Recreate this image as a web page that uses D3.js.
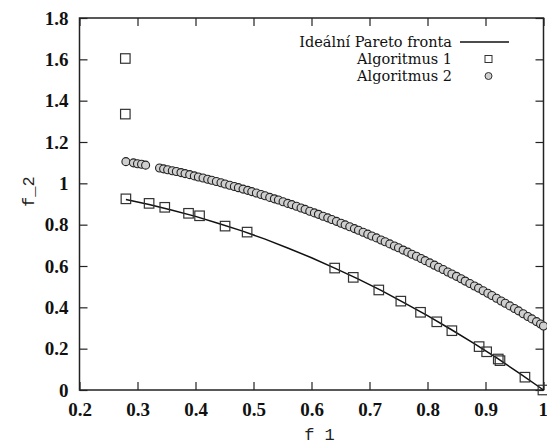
<!DOCTYPE html>
<html>
<head>
<meta charset="utf-8">
<script src="https://cdn.jsdelivr.net/npm/d3@7"></script>
<style>
  body { margin: 0; background: #fff; }
  svg { display: block; }
  .tick text { font-family: "Liberation Serif"; font-weight: bold; font-size: 19px; }
</style>
</head>
<body>
<div class="chart"></div>
<script>
// ideal front
const idealF1 = [0.28, 0.32, 0.36, 0.40, 0.44, 0.48, 0.52, 0.56, 0.60, 0.64, 0.68, 0.72, 0.76, 0.80, 0.84, 0.88, 0.92, 0.96, 1.0]
const idealF2 = [0.922, 0.898, 0.870, 0.840, 0.806, 0.770, 0.730, 0.686, 0.640, 0.590, 0.538, 0.482, 0.422, 0.360, 0.294, 0.226, 0.154, 0.078, 0.0]

// Algoritmus 1 (squares)
const alg1F1 = [0.279, 0.279, 0.280, 0.320, 0.347, 0.388, 0.407, 0.451, 0.489, 0.640, 0.672, 0.716, 0.754, 0.788, 0.816, 0.842, 0.889, 0.902, 0.922, 0.925, 0.968, 0.999]
const alg1F2 = [1.604, 1.335, 0.925, 0.903, 0.884, 0.855, 0.843, 0.793, 0.764, 0.590, 0.545, 0.484, 0.430, 0.376, 0.330, 0.287, 0.210, 0.185, 0.150, 0.142, 0.062, 0.0]

// Algoritmus 2 (circles)
const alg2F1 = [0.280, 0.293, 0.300, 0.307, 0.314, 0.338, 0.345, 0.352, 0.360, 0.367, 0.375, 0.382, 0.390, 0.398, 0.405, 0.413, 0.421, 0.428, 0.436, 0.444,
  0.451, 0.459, 0.467, 0.474, 0.482, 0.490, 0.497, 0.505, 0.513, 0.520, 0.528, 0.536, 0.543, 0.551, 0.559, 0.566, 0.574, 0.582, 0.589, 0.597,
  0.605, 0.612, 0.620, 0.628, 0.635, 0.643, 0.651, 0.658, 0.666, 0.674, 0.681, 0.689, 0.697, 0.704, 0.712, 0.720, 0.727, 0.735, 0.743, 0.750,
  0.758, 0.766, 0.773, 0.781, 0.789, 0.796, 0.804, 0.812, 0.819, 0.827, 0.835, 0.842, 0.850, 0.858, 0.865, 0.873, 0.881, 0.888, 0.896, 0.904,
  0.911, 0.919, 0.927, 0.934, 0.942, 0.950, 0.957, 0.965, 0.973, 0.980, 0.988, 0.995, 1.000]
const alg2F2 = [1.105, 1.099, 1.095, 1.092, 1.088, 1.074, 1.070, 1.066, 1.061, 1.057, 1.052, 1.047, 1.042, 1.036, 1.031, 1.026, 1.020, 1.015, 1.009, 1.003,
  0.997, 0.991, 0.985, 0.979, 0.972, 0.966, 0.960, 0.953, 0.946, 0.940, 0.932, 0.925, 0.919, 0.911, 0.903, 0.897, 0.889, 0.881, 0.874, 0.865,
  0.857, 0.850, 0.841, 0.833, 0.825, 0.816, 0.807, 0.799, 0.790, 0.781, 0.773, 0.763, 0.754, 0.745, 0.736, 0.726, 0.717, 0.707, 0.697, 0.688,
  0.677, 0.667, 0.657, 0.647, 0.636, 0.626, 0.615, 0.604, 0.594, 0.583, 0.571, 0.561, 0.550, 0.538, 0.527, 0.515, 0.503, 0.493, 0.480, 0.468,
  0.457, 0.444, 0.431, 0.420, 0.407, 0.394, 0.383, 0.369, 0.356, 0.344, 0.331, 0.319, 0.310]

const xTicks = [0.2, 0.3, 0.4, 0.5, 0.6, 0.7, 0.8, 0.9, 1]
const yTicks = [0, 0.2, 0.4, 0.6, 0.8, 1, 1.2, 1.4, 1.6, 1.8]
const legendLabels = ["Ideální Pareto fronta", "Algoritmus 1", "Algoritmus 2"]

var margin = {left: 79.5, right: 3.5, top: 18, bottom: 55},
    width = 547 - margin.left - margin.right,
    height = 445 - margin.top - margin.bottom

const svg = d3.select(".chart").append("svg")
  .attr("width", 547)
  .attr("height", 445)

const g = svg.append("g")
  .attr("transform", `translate(${margin.left},${margin.top})`)

const xs = d3.scaleLinear().domain([0.2, 1]).range([0, width])
const ys = d3.scaleLinear().domain([0, 1.8]).range([height, 0])

const fmt = d => d === 0 || d === 1 ? String(d) : d.toFixed(1)

// axes with inward ticks on all sides
const tickLen = 8
const xAxisG = g.append("g").attr("transform", `translate(0,${height})`)
  .call(d3.axisBottom(xs).tickValues(xTicks).tickSize(-tickLen).tickPadding(13).tickFormat(fmt))
g.append("g")
  .call(d3.axisTop(xs).tickValues(xTicks).tickSize(-tickLen).tickFormat(""))
g.append("g")
  .call(d3.axisLeft(ys).tickValues(yTicks).tickSize(-tickLen).tickPadding(11).tickFormat(fmt))
g.append("g").attr("transform", `translate(${width},0)`)
  .call(d3.axisRight(ys).tickValues(yTicks).tickSize(-tickLen).tickFormat(""))

g.selectAll(".domain").remove()
g.selectAll(".tick line").attr("stroke", "#222").attr("stroke-width", 1.2)
g.selectAll(".tick text").attr("fill", "#111")

// last x label sits at the page edge, nudge it in
xAxisG.selectAll(".tick text").filter(d => d === 1).attr("text-anchor", "end").attr("dx", 4)

g.append("rect")
  .attr("width", width).attr("height", height)
  .attr("fill", "none").attr("stroke", "#222").attr("stroke-width", 1.5)

// axis titles
svg.append("text")
  .attr("x", margin.left + width / 2 + 8)
  .attr("y", 440)
  .attr("text-anchor", "middle")
  .style("font-family", "'Liberation Mono', monospace")
  .style("font-size", "17px")
  .attr("fill", "#222")
  .text("f 1")

svg.append("text")
  .attr("transform", `translate(34,${margin.top + ys(0.96)}) rotate(-90)`)
  .attr("text-anchor", "middle")
  .style("font-family", "'Liberation Mono', monospace")
  .style("font-size", "17px")
  .attr("fill", "#222")
  .text("f_2")

// ideal line
const line = d3.line().x(d => xs(d[0])).y(d => ys(d[1]))
g.append("path")
  .datum(idealF1.map((f, i) => [f, idealF2[i]]))
  .attr("d", line)
  .attr("fill", "none")
  .attr("stroke", "#111")
  .attr("stroke-width", 1.5)

// circles
g.selectAll(".alg2").data(alg2F1.map((f, i) => [f, alg2F2[i]])).join("circle")
  .attr("class", "alg2")
  .attr("cx", d => xs(d[0]))
  .attr("cy", d => ys(d[1]))
  .attr("r", 4)
  .attr("fill", "#cfcfcf")
  .attr("stroke", "#222")
  .attr("stroke-width", 1.1)

// squares
const sq = 9.5
g.selectAll(".alg1").data(alg1F1.map((f, i) => [f, alg1F2[i]])).join("rect")
  .attr("class", "alg1")
  .attr("x", d => xs(d[0]) - sq / 2)
  .attr("y", d => ys(d[1]) - sq / 2)
  .attr("width", sq)
  .attr("height", sq)
  .attr("fill", "none")
  .attr("stroke", "#333")
  .attr("stroke-width", 1.2)

// legend
const legend = svg.append("g").attr("transform", "translate(452,42)")
legend.selectAll("text").data(legendLabels).join("text")
  .attr("x", 0)
  .attr("y", (d, i) => i * 17 + 5)
  .attr("text-anchor", "end")
  .style("font-family", "'DejaVu Serif', serif")
  .style("font-size", "14.5px")
  .attr("fill", "#111")
  .text(d => d)

legend.append("line")
  .attr("x1", 8).attr("x2", 57).attr("y1", 0).attr("y2", 0)
  .attr("stroke", "#111").attr("stroke-width", 1.5)
legend.append("rect")
  .attr("x", 33).attr("y", 17 - 3.5).attr("width", 7).attr("height", 7)
  .attr("fill", "none").attr("stroke", "#333").attr("stroke-width", 1)
legend.append("circle")
  .attr("cx", 36.5).attr("cy", 34).attr("r", 3.5)
  .attr("fill", "#cfcfcf").attr("stroke", "#333").attr("stroke-width", 1)
</script>
</body>
</html>
